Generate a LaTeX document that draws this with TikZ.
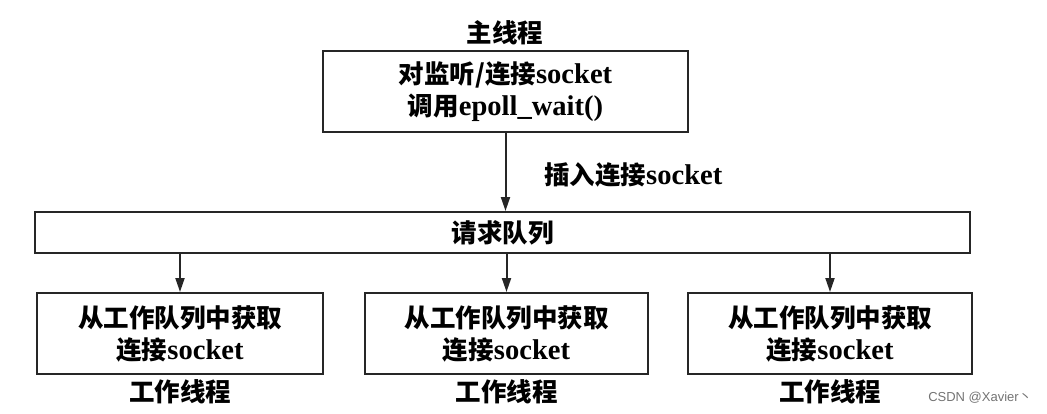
\documentclass[tikz,border=0pt]{standalone}
\usepackage{fontspec}
\setmainfont{Liberation Serif}[Scale=1.12]
\newfontfamily\cjk{Noto Sans CJK SC}
\newfontfamily\wmfont{Liberation Sans}
\newfontfamily\wmcjk{Noto Sans CJK SC}
\usetikzlibrary{arrows.meta}
\newcommand{\zhtxt}[1]{{\cjk #1}}
\tikzset{
  box/.style={draw=black!85, line width=2pt, inner sep=0pt, align=center,
    font=\fontsize{25.5}{32}\selectfont\bfseries},
  lbl/.style={inner sep=0pt, font=\fontsize{25.5}{32}\selectfont\bfseries},
  arr/.style={line width=2pt, draw=black!85, -{Triangle[length=14pt,width=9pt]}},
}
\begin{document}
\begin{tikzpicture}[x=1pt,y=-1pt]
\useasboundingbox (0,0) rectangle (1047,413);
\node[lbl] (title) at (505,33) {\zhtxt{主线程}};
\node[box, minimum width=365pt, minimum height=81pt] (main) at (505.5,91.5)
  {\zhtxt{对监听/连接}socket\\\zhtxt{调用}epoll\_wait()};
\node[box, minimum width=935pt, minimum height=41pt] (queue) at (502.5,232.5)
  {\zhtxt{请求队列}};
\node[box, minimum width=286pt, minimum height=81pt] (w1) at (180,333.5)
  {\zhtxt{从工作队列中获取}\\\zhtxt{连接}socket};
\node[box, minimum width=283pt, minimum height=81pt] (w2) at (506.5,333.5)
  {\zhtxt{从工作队列中获取}\\\zhtxt{连接}socket};
\node[box, minimum width=284pt, minimum height=81pt] (w3) at (830,333.5)
  {\zhtxt{从工作队列中获取}\\\zhtxt{连接}socket};
\node[lbl, anchor=west] (ins) at (544,175) {\zhtxt{插入连接}socket};
\node[lbl] (t1) at (180,392) {\zhtxt{工作线程}};
\node[lbl] (t2) at (506.5,392) {\zhtxt{工作线程}};
\node[lbl] (t3) at (830,392) {\zhtxt{工作线程}};
\node[inner sep=0pt, text=black!55, font=\fontsize{13}{15}\selectfont] (wm) at (980,398)
  {\wmfont CSDN @Xavier{\wmcjk 丶}};
\draw[arr] (main.south) -- (main.south |- queue.north);
\draw[arr] (queue.south -| w1.north) -- (w1.north);
\draw[arr] (queue.south -| w2.north) -- (w2.north);
\draw[arr] (queue.south -| w3.north) -- (w3.north);
\end{tikzpicture}
\end{document}
